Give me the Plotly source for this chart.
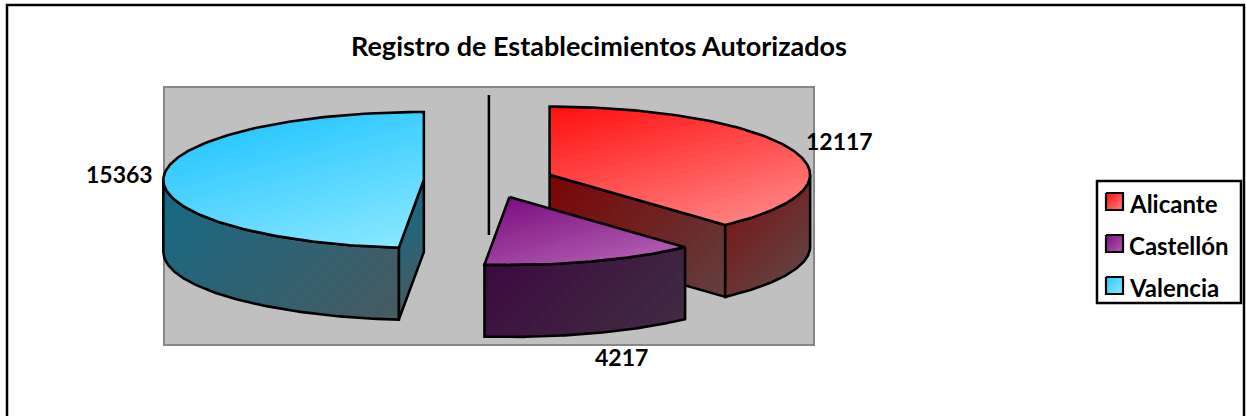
"""Registro de Establecimientos Autorizados: exploded pie drawn in oblique 3D."""

import numpy as np
import plotly.graph_objects as go

TITLE = "Registro de Establecimientos Autorizados"
CATEGORIES = ["Alicante", "Castellón", "Valencia"]
VALUES = [12117, 4217, 15363]
LABEL_X = [839, 621, 119]
LABEL_Y = [141, 357, 174]
LEGEND_Y = [203, 245, 287]

# gradient ends: (top start, top end, cut face start, cut face end, wall start)
COLORS = {
    "Alicante": ("#ff0f0f", "#ff8080", "#7a0404", "#63403f", "#761c1c"),
    "Castellón": ("#7c0f80", "#b05cb0", "#3c0a40", "#402c42", "#3c0a40"),
    "Valencia": ("#2dc8ff", "#8ae8ff", "#156a86", "#485a60", "#156a86"),
}

WIDTH, HEIGHT = 1246, 416
CENTER_X, CENTER_Y = 488.9, 180.8
RADIUS_X, RADIUS_Y = 260.5, 68.0
DEPTH = 72.0
EXPLODE = 0.25
STEPS = 24
FONT = "Lato, Carlito, Liberation Sans, sans-serif"
DIAGONAL = np.array([0.7071, 0.7071])
MOSTLY_DOWN = np.array([0.26, 0.97])


def rgb(color):
    return np.array([int(color[i:i + 2], 16) for i in (1, 3, 5)], dtype=float)


def clip(points, gradient_axis, level):
    """Keep the part of a polygon on the far side of a gradient level."""
    kept = []
    for a, b in zip(points, points[1:] + points[:1]):
        da, db = a @ gradient_axis - level, b @ gradient_axis - level
        if da >= 0:
            kept.append(a)
        if (da >= 0) != (db >= 0):
            kept.append(a + (b - a) * da / (da - db))
    return kept


def paint(figure, points, start, end, axis=DIAGONAL, line_width=2.6, steps=STEPS):
    # overlapping bands instead of strips, so no seams show between them
    levels = [p @ axis for p in points]
    for i in range(steps):
        band = clip(points, axis, min(levels) + (max(levels) - min(levels)) * i / steps)
        if len(band) < 3:
            continue
        mix = rgb(start) + (rgb(end) - rgb(start)) * (i + 0.5) / steps
        figure.add_trace(go.Scatter(
            x=[p[0] for p in band],
            y=[p[1] for p in band],
            mode="lines",
            fill="toself",
            fillcolor=f"rgb({mix[0]:.0f},{mix[1]:.0f},{mix[2]:.0f})",
            line={"width": 0},
            hoverinfo="skip",
        ))
    figure.add_trace(go.Scatter(
        x=[p[0] for p in points] + [points[0][0]],
        y=[p[1] for p in points] + [points[0][1]],
        mode="lines",
        line={"color": "#000000", "width": line_width},
        hoverinfo="skip",
    ))


def rim(center, theta):
    return center + np.array([RADIUS_X * np.sin(theta), -RADIUS_Y * np.cos(theta)])


def draw_wedge(figure, name, theta0, theta1):
    top_start, top_end, side_start, side_end, wall_start = COLORS[name]
    middle = (theta0 + theta1) / 2
    center = np.array([CENTER_X, CENTER_Y]) + EXPLODE * (rim(np.zeros(2), middle))
    down = np.array([0.0, DEPTH])
    # flat cut faces, only those turned towards the viewer
    for theta, facing in ((theta0, -np.sin(theta0)), (theta1, np.sin(theta1))):
        if facing > 1e-6:
            edge = rim(center, theta)
            paint(figure, [center, edge, edge + down, center + down], side_start, side_end)
    # curved wall, the part of the rim in the front half
    low, high = max(theta0, np.pi / 2), min(theta1, 3 * np.pi / 2)
    if high > low:
        arc = [rim(center, t) for t in np.linspace(low, high, 90)]
        paint(figure, arc + [p + down for p in reversed(arc)], wall_start, side_end)
    top = [center] + [rim(center, t) for t in np.linspace(theta0, theta1, 160)]
    paint(figure, top, top_start, top_end, axis=MOSTLY_DOWN)


fig = go.Figure()

shares = np.array(VALUES) / sum(VALUES) * 2 * np.pi
edges = np.concatenate(([0.0], np.cumsum(shares)))
draw_order = [2, 0, 1]
for i in draw_order:
    draw_wedge(fig, CATEGORIES[i], edges[i], edges[i + 1])

annotations = [
    {"x": 598.5, "y": 45, "text": f"<b>{TITLE}</b>", "font_size": 27},
]
for value, x, y in zip(VALUES, LABEL_X, LABEL_Y):
    annotations.append({"x": x, "y": y, "text": f"<b>{value}</b>", "font_size": 23})
for name, y in zip(CATEGORIES, LEGEND_Y):
    annotations.append({"x": 1127, "y": y, "text": f"<b>{name}</b>", "font_size": 24, "xanchor": "left"})
    key_y = y - 1.5
    key = [np.array(p, dtype=float) for p in (
        (1106, key_y - 8.5), (1123, key_y - 8.5), (1123, key_y + 8.5), (1106, key_y + 8.5),
    )]
    paint(fig, key, COLORS[name][0], COLORS[name][1], line_width=2.2, steps=8)

fig.update_layout(
    width=WIDTH,
    height=HEIGHT,
    margin={"l": 0, "r": 0, "t": 0, "b": 0},
    paper_bgcolor="#ffffff",
    plot_bgcolor="#ffffff",
    showlegend=False,
    xaxis={"visible": False, "range": [0, WIDTH], "fixedrange": True},
    yaxis={"visible": False, "range": [HEIGHT, 0], "fixedrange": True},
    font={"family": FONT, "color": "#000000"},
    shapes=[
        {"type": "rect", "x0": 7, "x1": 1244, "y0": 5, "y1": 425, "line": {"color": "#000000", "width": 2.5},
         "layer": "below"},
        {"type": "rect", "x0": 164, "x1": 814, "y0": 87, "y1": 345, "fillcolor": "#c0c0c0",
         "line": {"color": "#868686", "width": 2}, "layer": "below"},
        {"type": "line", "x0": CENTER_X, "x1": CENTER_X, "y0": 95, "y1": 235,
         "line": {"color": "#000000", "width": 2.5}, "layer": "below"},
        {"type": "rect", "x0": 1097, "x1": 1241, "y0": 181, "y1": 303, "line": {"color": "#000000", "width": 2.5},
         "layer": "below"},
    ],
)
for note in annotations:
    size = note.pop("font_size")
    fig.add_annotation(xref="x", yref="y", showarrow=False, font={"size": size}, **note)

fig.write_html("out.html", post_script="document.body.style.margin='0';", config={"displayModeBar": False})
